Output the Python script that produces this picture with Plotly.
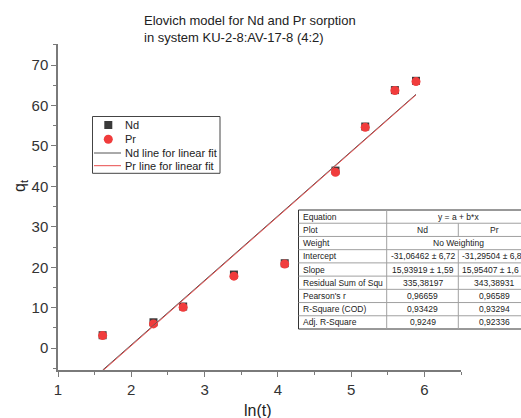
import numpy as np
import plotly.graph_objects as go

# ---- data ----
ln_t = [1.609, 2.303, 2.708, 3.401, 4.094, 4.787, 5.193, 5.598, 5.886]
q_nd = [3.2, 6.4, 10.3, 18.2, 21.0, 43.9, 54.8, 63.8, 66.1]
q_pr = [3.1, 6.0, 10.1, 17.8, 20.8, 43.5, 54.6, 63.7, 65.9]

nd_intercept, nd_slope = -31.06462, 15.93919
pr_intercept, pr_slope = -31.29504, 15.95407

legend_names = ["Nd", "Pr", "Nd line for linear fit", "Pr line for linear fit"]

table_labels = ["Equation", "Plot", "Weight", "Intercept", "Slope",
                "Residual Sum of Squ", "Pearson's r", "R-Square (COD)", "Adj. R-Square"]
table_nd = ["y = a + b*x", "Nd", "No Weighting", "-31,06462 ± 6,72", "15,93919 ± 1,59",
            "335,38197", "0,96659", "0,93429", "0,9249"]
table_pr = [None, "Pr", None, "-31,29504 ± 6,8", "15,95407 ± 1,6",
            "343,38931", "0,96589", "0,93294", "0,92336"]

FONT = "Liberation Sans, Arial, sans-serif"
W, H = 521, 418
L, R, T, B = 58, 60, 44, 48
PW, PH = W - L - R, H - T - B

ND_COLOR = "#3a3a3a"
PR_COLOR = "#f03c3c"
ND_LINE = "#555555"
PR_LINE = "#e84a4a"


def px(p):
    return (p - L) / PW


def py(p):
    return (H - B - p) / PH


fit_x = np.array([min(ln_t), max(ln_t)])

fig = go.Figure()
fig.add_trace(go.Scatter(x=ln_t, y=q_nd, mode="markers", name=legend_names[0],
                         marker=dict(symbol="square", size=8, color=ND_COLOR)))
fig.add_trace(go.Scatter(x=ln_t, y=q_pr, mode="markers", name=legend_names[1],
                         marker=dict(symbol="circle", size=9, color=PR_COLOR)))
fig.add_trace(go.Scatter(x=fit_x, y=nd_intercept + nd_slope * fit_x, mode="lines",
                         name=legend_names[2], line=dict(color=ND_LINE, width=1)))
fig.add_trace(go.Scatter(x=fit_x, y=pr_intercept + pr_slope * fit_x, mode="lines",
                         name=legend_names[3], line=dict(color=PR_LINE, width=1)))

axis_common = dict(showgrid=False, zeroline=False, showline=True, linecolor="#7a7a7a",
                   linewidth=1.5, ticks="outside", ticklen=5, tickwidth=1, tickcolor="#7a7a7a",
                   tickfont=dict(family=FONT, size=15, color="#333333"))
fig.update_xaxes(range=[1, 6.5], dtick=1, tick0=1,
                 minor=dict(dtick=0.5, ticks="outside", ticklen=3, tickcolor="#7a7a7a"),
                 **axis_common)
fig.update_yaxes(range=[-5.4, 75.2], dtick=10, tick0=0,
                 minor=dict(dtick=5, ticks="outside", ticklen=3, tickcolor="#7a7a7a"),
                 **axis_common)

shapes = []
annotations = []

# title
annotations.append(dict(xref="paper", yref="paper", x=px(142), y=py(11), xanchor="left",
                        yanchor="top", align="left", showarrow=False,
                        text="Elovich model for Nd and Pr sorption<br>in system KU-2-8:AV-17-8 (4:2)",
                        font=dict(family=FONT, size=13, color="#222222")))
# axis titles
annotations.append(dict(xref="paper", yref="paper", x=px(258), y=py(410), xanchor="center",
                        yanchor="middle", showarrow=False, text="ln(t)",
                        font=dict(family=FONT, size=16, color="#222222")))
annotations.append(dict(xref="paper", yref="paper", x=px(20), y=py(186), xanchor="center",
                        yanchor="middle", showarrow=False, text="q<sub>t</sub>", textangle=-90,
                        font=dict(family=FONT, size=16, color="#222222")))

# legend (drawn manually to match compact Origin-style layout)
lx0, lx1, ly0, ly1 = 92.5, 220, 116.5, 173.3
shapes.append(dict(type="rect", xref="paper", yref="paper", x0=px(lx0), x1=px(lx1),
                   y0=py(ly1), y1=py(ly0), fillcolor="white", line=dict(color="#444444", width=1)))
leg_y = [125, 139.3, 153, 165.7]
sym_x = 108.3
shapes.append(dict(type="rect", xref="paper", yref="paper", xsizemode="pixel", ysizemode="pixel",
                   xanchor=px(sym_x), yanchor=py(leg_y[0]), x0=-4, x1=4, y0=-4, y1=4,
                   fillcolor=ND_COLOR, line=dict(width=0)))
shapes.append(dict(type="circle", xref="paper", yref="paper", xsizemode="pixel", ysizemode="pixel",
                   xanchor=px(sym_x), yanchor=py(leg_y[1]), x0=-4.5, x1=4.5, y0=-4.5, y1=4.5,
                   fillcolor=PR_COLOR, line=dict(width=0)))
for yy, col in ((leg_y[2], ND_LINE), (leg_y[3], PR_LINE)):
    shapes.append(dict(type="line", xref="paper", yref="paper", x0=px(94), x1=px(121),
                       y0=py(yy), y1=py(yy), line=dict(color=col, width=1)))
for name, yy in zip(legend_names, leg_y):
    annotations.append(dict(xref="paper", yref="paper", x=px(122.5), y=py(yy), xanchor="left",
                            yanchor="middle", showarrow=False, text=name,
                            font=dict(family=FONT, size=11, color="#222222")))

# table
tx0, tx1, tx2, tx3 = 298.5, 386.7, 458.3, 530
ty0, ty1 = 210, 329
rh = (ty1 - ty0) / len(table_labels)
shapes.append(dict(type="rect", xref="paper", yref="paper", x0=px(tx0), x1=px(tx3),
                   y0=py(ty1), y1=py(ty0), fillcolor="white", line=dict(color="#333333", width=1)))
for i in range(1, len(table_labels)):
    yy = py(ty0 + i * rh)
    shapes.append(dict(type="line", xref="paper", yref="paper", x0=px(tx0), x1=px(tx3),
                       y0=yy, y1=yy, line=dict(color="#a0a0a0", width=1)))
shapes.append(dict(type="line", xref="paper", yref="paper", x0=px(tx1), x1=px(tx1),
                   y0=py(ty1), y1=py(ty0), line=dict(color="#a0a0a0", width=1)))
for i, lab in enumerate(table_labels):
    if table_pr[i] is not None:
        shapes.append(dict(type="line", xref="paper", yref="paper", x0=px(tx2), x1=px(tx2),
                           y0=py(ty0 + (i + 1) * rh), y1=py(ty0 + i * rh),
                           line=dict(color="#a0a0a0", width=1)))
tf = dict(family=FONT, size=8.5, color="#222222")
for i, lab in enumerate(table_labels):
    yc = py(ty0 + (i + 0.5) * rh)
    annotations.append(dict(xref="paper", yref="paper", x=px(tx0 + 2), y=yc, xanchor="left",
                            yanchor="middle", showarrow=False, text=lab, font=tf))
    if table_pr[i] is None:
        annotations.append(dict(xref="paper", yref="paper", x=px((tx1 + tx3) / 2), y=yc,
                                xanchor="center", yanchor="middle", showarrow=False,
                                text=table_nd[i], font=tf))
    else:
        annotations.append(dict(xref="paper", yref="paper", x=px((tx1 + tx2) / 2), y=yc,
                                xanchor="center", yanchor="middle", showarrow=False,
                                text=table_nd[i], font=tf))
        if "±" in table_pr[i]:
            annotations.append(dict(xref="paper", yref="paper", x=px(tx2 + 1.5), y=yc,
                                    xanchor="left", yanchor="middle", showarrow=False,
                                    text=table_pr[i], font=tf))
        else:
            annotations.append(dict(xref="paper", yref="paper", x=px((tx2 + tx3) / 2), y=yc,
                                    xanchor="center", yanchor="middle", showarrow=False,
                                    text=table_pr[i], font=tf))

fig.update_layout(
    width=W, height=H,
    margin=dict(l=L, r=R, t=T, b=B),
    paper_bgcolor="white", plot_bgcolor="white",
    showlegend=False,
    shapes=shapes,
    annotations=annotations,
)

fig.write_html("out.html")
